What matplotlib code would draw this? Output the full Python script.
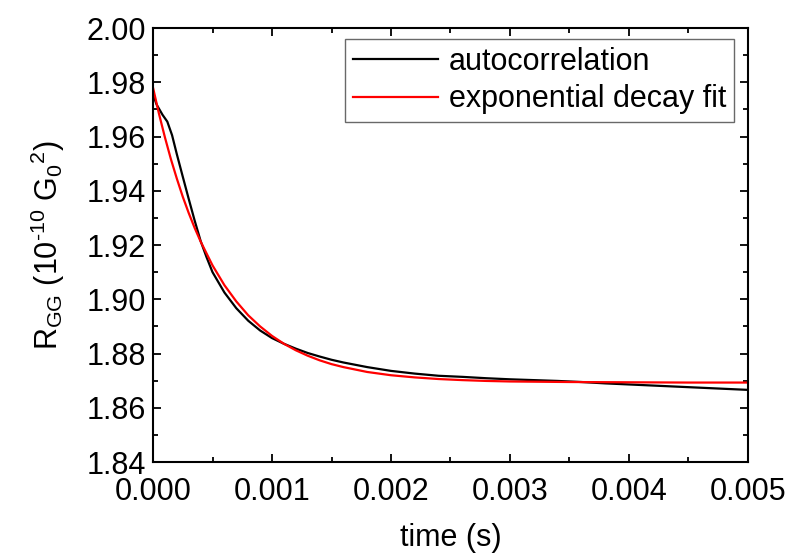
import matplotlib
matplotlib.use("Agg")
import matplotlib.pyplot as plt
from matplotlib.ticker import MultipleLocator, FormatStrFormatter

plt.rcParams['font.family'] = ['Liberation Sans', 'DejaVu Sans']
plt.rcParams['mathtext.fontset'] = 'custom'
plt.rcParams['mathtext.rm'] = 'Liberation Sans'
plt.rcParams['mathtext.it'] = 'Liberation Sans'

# autocorrelation of the conductance signal
t_auto = [0.0, 0.00003, 0.00008, 0.00012, 0.00016, 0.0002, 0.00025, 0.0003,
          0.00035, 0.0004, 0.00045, 0.0005, 0.0006, 0.0007, 0.0008, 0.0009,
          0.001, 0.0011, 0.0012, 0.0013, 0.0014, 0.0015, 0.0016, 0.0018,
          0.002, 0.0022, 0.0024, 0.0026, 0.0028, 0.003, 0.0032, 0.0034,
          0.0036, 0.0038, 0.004, 0.0042, 0.0044, 0.0046, 0.0048, 0.005]
r_auto = [1.9755, 1.9718, 1.9680, 1.9655, 1.9605, 1.9535, 1.9452, 1.9370,
          1.9290, 1.9215, 1.9155, 1.9100, 1.9025, 1.8967, 1.8921, 1.8885,
          1.8857, 1.8836, 1.8818, 1.8802, 1.8789, 1.8777, 1.8767, 1.8750,
          1.8736, 1.8726, 1.8718, 1.8714, 1.8709, 1.8705, 1.8702, 1.8699,
          1.8695, 1.8690, 1.8686, 1.8682, 1.8678, 1.8674, 1.8670, 1.8666]

# exponential decay fit
t_fit = [0.0, 0.00005, 0.0001, 0.00015, 0.0002, 0.00025, 0.0003, 0.00035,
         0.0004, 0.0005, 0.0006, 0.0007, 0.0008, 0.0009, 0.001, 0.0011,
         0.0012, 0.0013, 0.0014, 0.0015, 0.0016, 0.0018, 0.002, 0.0022,
         0.0024, 0.0026, 0.0028, 0.003, 0.0035, 0.004, 0.0045, 0.005]
r_fit = [1.9780, 1.9684, 1.9597, 1.9517, 1.9445, 1.9378, 1.9318, 1.9263,
         1.9213, 1.9125, 1.9052, 1.8992, 1.8941, 1.8900, 1.8865, 1.8836,
         1.8812, 1.8792, 1.8775, 1.8761, 1.8750, 1.8732, 1.8720, 1.8712,
         1.8706, 1.8702, 1.8699, 1.8697, 1.8695, 1.8694, 1.8693, 1.8693]

fig = plt.figure(figsize=(7.9, 5.54), dpi=100)
ax = fig.add_axes([0.1937, 0.166, 0.7531, 0.7834])

ax.plot(t_auto, r_auto, color='black', lw=1.6, label='autocorrelation')
ax.plot(t_fit, r_fit, color='#ff0000', lw=1.6, label='exponential decay fit')

ax.set_xlim(0, 0.005)
ax.set_ylim(1.84, 2.00)
ax.xaxis.set_major_locator(MultipleLocator(0.001))
ax.xaxis.set_minor_locator(MultipleLocator(0.0005))
ax.yaxis.set_major_locator(MultipleLocator(0.02))
ax.yaxis.set_minor_locator(MultipleLocator(0.01))
ax.xaxis.set_major_formatter(FormatStrFormatter('%.3f'))
ax.yaxis.set_major_formatter(FormatStrFormatter('%.2f'))

ax.tick_params(which='both', direction='in', top=True, right=True,
               width=1.3, labelsize=22)
ax.tick_params(which='major', length=6)
ax.tick_params(axis='y', which='major', pad=5)
ax.tick_params(axis='x', which='major', pad=10.5)
ax.tick_params(which='minor', length=3.5)
for s in ax.spines.values():
    s.set_linewidth(1.5)

ax.set_xlabel('time (s)', fontsize=22, labelpad=12)
ax.set_ylabel(r'R$_{\mathregular{GG}}$ (10$^{\mathregular{\text{-}10}}$ G$_{\mathregular{0}}$$^{\mathregular{2}}$)',
              fontsize=22, labelpad=14)

leg = ax.legend(loc='upper right', bbox_to_anchor=(0.9765, 0.9747),
                borderaxespad=0, fancybox=False, frameon=True,
                edgecolor='#444444', fontsize=22, handlelength=2.8,
                handletextpad=0.35, labelspacing=0.25, borderpad=0.25)
leg.get_frame().set_linewidth(1.0)

fig.savefig('out.png', dpi=100)
